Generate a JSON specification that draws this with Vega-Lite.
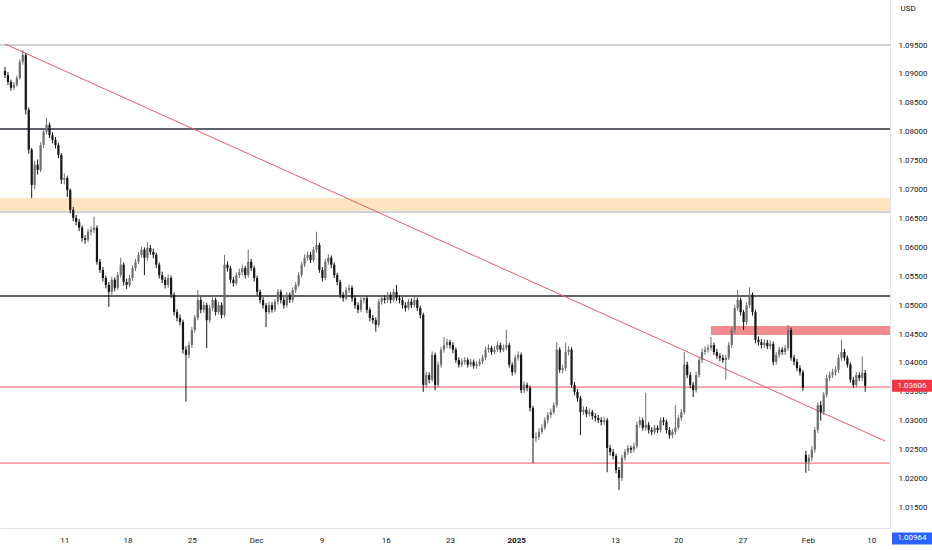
{
"$schema":"https://vega.github.io/schema/vega-lite/v6.json",
"width":890,"height":528,
"autosize":{"type":"none"},
"padding":{"left":0,"top":0,"right":42,"bottom":22},
"background":"#ffffff",
"config":{"view":{"stroke":null},"font":"Roboto","axis":{"labelOverlap":false,"labelFlush":false,"grid":false,"ticks":false,"title":null}},
"datasets":{
"candles":[
{"i":0,"o":1.0905,"h":1.0912,"l":1.0893,"c":1.0898},
{"i":1,"o":1.0898,"h":1.0903,"l":1.0881,"c":1.0886},
{"i":2,"o":1.0886,"h":1.0890,"l":1.0871,"c":1.0876},
{"i":3,"o":1.0876,"h":1.0886,"l":1.0872,"c":1.0881},
{"i":4,"o":1.0881,"h":1.0897,"l":1.0878,"c":1.0893},
{"i":5,"o":1.0893,"h":1.0925,"l":1.0890,"c":1.0921},
{"i":6,"o":1.0921,"h":1.0941,"l":1.0916,"c":1.0933},
{"i":7,"o":1.0933,"h":1.0936,"l":1.0830,"c":1.0838},
{"i":8,"o":1.0838,"h":1.0842,"l":1.0762,"c":1.0769},
{"i":9,"o":1.0769,"h":1.0772,"l":1.0685,"c":1.0708},
{"i":10,"o":1.0708,"h":1.0750,"l":1.0700,"c":1.0743},
{"i":11,"o":1.0743,"h":1.0752,"l":1.0726,"c":1.0734},
{"i":12,"o":1.0734,"h":1.0782,"l":1.0730,"c":1.0777},
{"i":13,"o":1.0777,"h":1.0806,"l":1.0772,"c":1.0800},
{"i":14,"o":1.0800,"h":1.0824,"l":1.0795,"c":1.0812},
{"i":15,"o":1.0812,"h":1.0816,"l":1.0789,"c":1.0794},
{"i":16,"o":1.0794,"h":1.0799,"l":1.0780,"c":1.0786},
{"i":17,"o":1.0786,"h":1.0791,"l":1.0771,"c":1.0777},
{"i":18,"o":1.0777,"h":1.0781,"l":1.0754,"c":1.0760},
{"i":19,"o":1.0760,"h":1.0763,"l":1.0710,"c":1.0717},
{"i":20,"o":1.0717,"h":1.0728,"l":1.0709,"c":1.0720},
{"i":21,"o":1.0720,"h":1.0724,"l":1.0687,"c":1.0699},
{"i":22,"o":1.0699,"h":1.0702,"l":1.0659,"c":1.0665},
{"i":23,"o":1.0665,"h":1.0670,"l":1.0645,"c":1.0651},
{"i":24,"o":1.0651,"h":1.0656,"l":1.0638,"c":1.0644},
{"i":25,"o":1.0644,"h":1.0649,"l":1.0628,"c":1.0634},
{"i":26,"o":1.0634,"h":1.0638,"l":1.0610,"c":1.0616},
{"i":27,"o":1.0616,"h":1.0621,"l":1.0606,"c":1.0613},
{"i":28,"o":1.0613,"h":1.0632,"l":1.0609,"c":1.0627},
{"i":29,"o":1.0627,"h":1.0636,"l":1.0621,"c":1.0630},
{"i":30,"o":1.0630,"h":1.0653,"l":1.0625,"c":1.0634},
{"i":31,"o":1.0634,"h":1.0638,"l":1.0570,"c":1.0575},
{"i":32,"o":1.0575,"h":1.0580,"l":1.0556,"c":1.0561},
{"i":33,"o":1.0561,"h":1.0566,"l":1.0541,"c":1.0547},
{"i":34,"o":1.0547,"h":1.0551,"l":1.0529,"c":1.0535},
{"i":35,"o":1.0535,"h":1.0540,"l":1.0497,"c":1.0523},
{"i":36,"o":1.0523,"h":1.0549,"l":1.0518,"c":1.0544},
{"i":37,"o":1.0544,"h":1.0548,"l":1.0524,"c":1.0530},
{"i":38,"o":1.0530,"h":1.0557,"l":1.0526,"c":1.0552},
{"i":39,"o":1.0552,"h":1.0582,"l":1.0548,"c":1.0570},
{"i":40,"o":1.0570,"h":1.0574,"l":1.0534,"c":1.0540},
{"i":41,"o":1.0540,"h":1.0546,"l":1.0528,"c":1.0535},
{"i":42,"o":1.0535,"h":1.0552,"l":1.0531,"c":1.0547},
{"i":43,"o":1.0547,"h":1.0569,"l":1.0542,"c":1.0564},
{"i":44,"o":1.0564,"h":1.0580,"l":1.0559,"c":1.0575},
{"i":45,"o":1.0575,"h":1.0592,"l":1.0571,"c":1.0587},
{"i":46,"o":1.0587,"h":1.0601,"l":1.0582,"c":1.0596},
{"i":47,"o":1.0596,"h":1.0600,"l":1.0552,"c":1.0582},
{"i":48,"o":1.0582,"h":1.0609,"l":1.0577,"c":1.0599},
{"i":49,"o":1.0599,"h":1.0604,"l":1.0587,"c":1.0592},
{"i":50,"o":1.0592,"h":1.0598,"l":1.0581,"c":1.0587},
{"i":51,"o":1.0587,"h":1.0591,"l":1.0564,"c":1.0570},
{"i":52,"o":1.0570,"h":1.0574,"l":1.0546,"c":1.0552},
{"i":53,"o":1.0552,"h":1.0558,"l":1.0538,"c":1.0544},
{"i":54,"o":1.0544,"h":1.0549,"l":1.0529,"c":1.0535},
{"i":55,"o":1.0535,"h":1.0553,"l":1.0530,"c":1.0547},
{"i":56,"o":1.0547,"h":1.0551,"l":1.0512,"c":1.0518},
{"i":57,"o":1.0518,"h":1.0522,"l":1.0482,"c":1.0488},
{"i":58,"o":1.0488,"h":1.0493,"l":1.0472,"c":1.0478},
{"i":59,"o":1.0478,"h":1.0484,"l":1.0465,"c":1.0471},
{"i":60,"o":1.0471,"h":1.0475,"l":1.0416,"c":1.0423},
{"i":61,"o":1.0423,"h":1.0429,"l":1.0333,"c":1.0414},
{"i":62,"o":1.0414,"h":1.0437,"l":1.0408,"c":1.0431},
{"i":63,"o":1.0431,"h":1.0462,"l":1.0426,"c":1.0457},
{"i":64,"o":1.0457,"h":1.0483,"l":1.0452,"c":1.0478},
{"i":65,"o":1.0478,"h":1.0526,"l":1.0474,"c":1.0509},
{"i":66,"o":1.0509,"h":1.0514,"l":1.0486,"c":1.0492},
{"i":67,"o":1.0492,"h":1.0506,"l":1.0487,"c":1.0500},
{"i":68,"o":1.0500,"h":1.0504,"l":1.0426,"c":1.0474},
{"i":69,"o":1.0474,"h":1.0500,"l":1.0469,"c":1.0495},
{"i":70,"o":1.0495,"h":1.0515,"l":1.0490,"c":1.0509},
{"i":71,"o":1.0509,"h":1.0513,"l":1.0482,"c":1.0488},
{"i":72,"o":1.0488,"h":1.0506,"l":1.0484,"c":1.0500},
{"i":73,"o":1.0500,"h":1.0505,"l":1.0477,"c":1.0483},
{"i":74,"o":1.0483,"h":1.0587,"l":1.0479,"c":1.0570},
{"i":75,"o":1.0570,"h":1.0576,"l":1.0558,"c":1.0564},
{"i":76,"o":1.0564,"h":1.0568,"l":1.0538,"c":1.0544},
{"i":77,"o":1.0544,"h":1.0549,"l":1.0532,"c":1.0538},
{"i":78,"o":1.0538,"h":1.0557,"l":1.0534,"c":1.0552},
{"i":79,"o":1.0552,"h":1.0563,"l":1.0547,"c":1.0557},
{"i":80,"o":1.0557,"h":1.0570,"l":1.0552,"c":1.0564},
{"i":81,"o":1.0564,"h":1.0568,"l":1.0546,"c":1.0552},
{"i":82,"o":1.0552,"h":1.0596,"l":1.0548,"c":1.0575},
{"i":83,"o":1.0575,"h":1.0580,"l":1.0559,"c":1.0564},
{"i":84,"o":1.0564,"h":1.0568,"l":1.0541,"c":1.0547},
{"i":85,"o":1.0547,"h":1.0551,"l":1.0517,"c":1.0523},
{"i":86,"o":1.0523,"h":1.0527,"l":1.0503,"c":1.0509},
{"i":87,"o":1.0509,"h":1.0514,"l":1.0494,"c":1.0500},
{"i":88,"o":1.0500,"h":1.0504,"l":1.0462,"c":1.0488},
{"i":89,"o":1.0488,"h":1.0506,"l":1.0484,"c":1.0500},
{"i":90,"o":1.0500,"h":1.0505,"l":1.0487,"c":1.0492},
{"i":91,"o":1.0492,"h":1.0511,"l":1.0488,"c":1.0506},
{"i":92,"o":1.0506,"h":1.0528,"l":1.0501,"c":1.0523},
{"i":93,"o":1.0523,"h":1.0527,"l":1.0503,"c":1.0509},
{"i":94,"o":1.0509,"h":1.0514,"l":1.0494,"c":1.0500},
{"i":95,"o":1.0500,"h":1.0523,"l":1.0496,"c":1.0518},
{"i":96,"o":1.0518,"h":1.0522,"l":1.0504,"c":1.0509},
{"i":97,"o":1.0509,"h":1.0531,"l":1.0505,"c":1.0526},
{"i":98,"o":1.0526,"h":1.0540,"l":1.0521,"c":1.0535},
{"i":99,"o":1.0535,"h":1.0557,"l":1.0531,"c":1.0552},
{"i":100,"o":1.0552,"h":1.0575,"l":1.0548,"c":1.0570},
{"i":101,"o":1.0570,"h":1.0588,"l":1.0566,"c":1.0582},
{"i":102,"o":1.0582,"h":1.0593,"l":1.0577,"c":1.0587},
{"i":103,"o":1.0587,"h":1.0592,"l":1.0573,"c":1.0578},
{"i":104,"o":1.0578,"h":1.0601,"l":1.0574,"c":1.0596},
{"i":105,"o":1.0596,"h":1.0627,"l":1.0591,"c":1.0604},
{"i":106,"o":1.0604,"h":1.0608,"l":1.0556,"c":1.0561},
{"i":107,"o":1.0561,"h":1.0566,"l":1.0541,"c":1.0547},
{"i":108,"o":1.0547,"h":1.0580,"l":1.0543,"c":1.0575},
{"i":109,"o":1.0575,"h":1.0588,"l":1.0570,"c":1.0582},
{"i":110,"o":1.0582,"h":1.0586,"l":1.0564,"c":1.0570},
{"i":111,"o":1.0570,"h":1.0574,"l":1.0547,"c":1.0552},
{"i":112,"o":1.0552,"h":1.0556,"l":1.0534,"c":1.0540},
{"i":113,"o":1.0540,"h":1.0544,"l":1.0512,"c":1.0518},
{"i":114,"o":1.0518,"h":1.0523,"l":1.0506,"c":1.0512},
{"i":115,"o":1.0512,"h":1.0531,"l":1.0508,"c":1.0526},
{"i":116,"o":1.0526,"h":1.0536,"l":1.0521,"c":1.0530},
{"i":117,"o":1.0530,"h":1.0534,"l":1.0506,"c":1.0512},
{"i":118,"o":1.0512,"h":1.0516,"l":1.0494,"c":1.0500},
{"i":119,"o":1.0500,"h":1.0505,"l":1.0486,"c":1.0492},
{"i":120,"o":1.0492,"h":1.0514,"l":1.0488,"c":1.0509},
{"i":121,"o":1.0509,"h":1.0518,"l":1.0503,"c":1.0512},
{"i":122,"o":1.0512,"h":1.0516,"l":1.0486,"c":1.0492},
{"i":123,"o":1.0492,"h":1.0496,"l":1.0472,"c":1.0478},
{"i":124,"o":1.0478,"h":1.0483,"l":1.0468,"c":1.0474},
{"i":125,"o":1.0474,"h":1.0479,"l":1.0454,"c":1.0466},
{"i":126,"o":1.0466,"h":1.0511,"l":1.0462,"c":1.0506},
{"i":127,"o":1.0506,"h":1.0518,"l":1.0501,"c":1.0512},
{"i":128,"o":1.0512,"h":1.0517,"l":1.0503,"c":1.0509},
{"i":129,"o":1.0509,"h":1.0523,"l":1.0504,"c":1.0518},
{"i":130,"o":1.0518,"h":1.0522,"l":1.0503,"c":1.0509},
{"i":131,"o":1.0509,"h":1.0528,"l":1.0505,"c":1.0523},
{"i":132,"o":1.0523,"h":1.0535,"l":1.0507,"c":1.0512},
{"i":133,"o":1.0512,"h":1.0517,"l":1.0503,"c":1.0509},
{"i":134,"o":1.0509,"h":1.0514,"l":1.0494,"c":1.0500},
{"i":135,"o":1.0500,"h":1.0505,"l":1.0489,"c":1.0495},
{"i":136,"o":1.0495,"h":1.0511,"l":1.0491,"c":1.0506},
{"i":137,"o":1.0506,"h":1.0512,"l":1.0495,"c":1.0500},
{"i":138,"o":1.0500,"h":1.0514,"l":1.0496,"c":1.0509},
{"i":139,"o":1.0509,"h":1.0513,"l":1.0490,"c":1.0495},
{"i":140,"o":1.0495,"h":1.0499,"l":1.0477,"c":1.0483},
{"i":141,"o":1.0483,"h":1.0487,"l":1.0350,"c":1.0362},
{"i":142,"o":1.0362,"h":1.0385,"l":1.0357,"c":1.0379},
{"i":143,"o":1.0379,"h":1.0384,"l":1.0365,"c":1.0371},
{"i":144,"o":1.0371,"h":1.0420,"l":1.0367,"c":1.0414},
{"i":145,"o":1.0414,"h":1.0418,"l":1.0353,"c":1.0362},
{"i":146,"o":1.0362,"h":1.0402,"l":1.0358,"c":1.0397},
{"i":147,"o":1.0397,"h":1.0428,"l":1.0392,"c":1.0423},
{"i":148,"o":1.0423,"h":1.0445,"l":1.0418,"c":1.0431},
{"i":149,"o":1.0431,"h":1.0442,"l":1.0426,"c":1.0436},
{"i":150,"o":1.0436,"h":1.0440,"l":1.0425,"c":1.0431},
{"i":151,"o":1.0431,"h":1.0436,"l":1.0417,"c":1.0423},
{"i":152,"o":1.0423,"h":1.0427,"l":1.0400,"c":1.0405},
{"i":153,"o":1.0405,"h":1.0410,"l":1.0392,"c":1.0397},
{"i":154,"o":1.0397,"h":1.0408,"l":1.0393,"c":1.0402},
{"i":155,"o":1.0402,"h":1.0410,"l":1.0397,"c":1.0405},
{"i":156,"o":1.0405,"h":1.0409,"l":1.0392,"c":1.0397},
{"i":157,"o":1.0397,"h":1.0407,"l":1.0393,"c":1.0402},
{"i":158,"o":1.0402,"h":1.0406,"l":1.0390,"c":1.0395},
{"i":159,"o":1.0395,"h":1.0403,"l":1.0390,"c":1.0398},
{"i":160,"o":1.0398,"h":1.0407,"l":1.0394,"c":1.0402},
{"i":161,"o":1.0402,"h":1.0414,"l":1.0398,"c":1.0409},
{"i":162,"o":1.0409,"h":1.0428,"l":1.0405,"c":1.0423},
{"i":163,"o":1.0423,"h":1.0432,"l":1.0418,"c":1.0426},
{"i":164,"o":1.0426,"h":1.0430,"l":1.0414,"c":1.0419},
{"i":165,"o":1.0419,"h":1.0429,"l":1.0415,"c":1.0423},
{"i":166,"o":1.0423,"h":1.0437,"l":1.0419,"c":1.0431},
{"i":167,"o":1.0431,"h":1.0435,"l":1.0418,"c":1.0423},
{"i":168,"o":1.0423,"h":1.0432,"l":1.0419,"c":1.0426},
{"i":169,"o":1.0426,"h":1.0457,"l":1.0422,"c":1.0431},
{"i":170,"o":1.0431,"h":1.0435,"l":1.0392,"c":1.0397},
{"i":171,"o":1.0397,"h":1.0401,"l":1.0378,"c":1.0384},
{"i":172,"o":1.0384,"h":1.0414,"l":1.0380,"c":1.0409},
{"i":173,"o":1.0409,"h":1.0420,"l":1.0404,"c":1.0414},
{"i":174,"o":1.0414,"h":1.0418,"l":1.0348,"c":1.0353},
{"i":175,"o":1.0353,"h":1.0368,"l":1.0348,"c":1.0362},
{"i":176,"o":1.0362,"h":1.0366,"l":1.0351,"c":1.0357},
{"i":177,"o":1.0357,"h":1.0361,"l":1.0316,"c":1.0322},
{"i":178,"o":1.0322,"h":1.0326,"l":1.0227,"c":1.0270},
{"i":179,"o":1.0270,"h":1.0280,"l":1.0263,"c":1.0272},
{"i":180,"o":1.0272,"h":1.0287,"l":1.0267,"c":1.0281},
{"i":181,"o":1.0281,"h":1.0294,"l":1.0277,"c":1.0288},
{"i":182,"o":1.0288,"h":1.0306,"l":1.0284,"c":1.0301},
{"i":183,"o":1.0301,"h":1.0315,"l":1.0296,"c":1.0310},
{"i":184,"o":1.0310,"h":1.0321,"l":1.0305,"c":1.0315},
{"i":185,"o":1.0315,"h":1.0332,"l":1.0311,"c":1.0327},
{"i":186,"o":1.0327,"h":1.0436,"l":1.0323,"c":1.0423},
{"i":187,"o":1.0423,"h":1.0427,"l":1.0383,"c":1.0388},
{"i":188,"o":1.0388,"h":1.0397,"l":1.0382,"c":1.0391},
{"i":189,"o":1.0391,"h":1.0435,"l":1.0386,"c":1.0419},
{"i":190,"o":1.0419,"h":1.0429,"l":1.0413,"c":1.0423},
{"i":191,"o":1.0423,"h":1.0427,"l":1.0357,"c":1.0362},
{"i":192,"o":1.0362,"h":1.0367,"l":1.0344,"c":1.0350},
{"i":193,"o":1.0350,"h":1.0355,"l":1.0333,"c":1.0339},
{"i":194,"o":1.0339,"h":1.0343,"l":1.0275,"c":1.0315},
{"i":195,"o":1.0315,"h":1.0325,"l":1.0310,"c":1.0319},
{"i":196,"o":1.0319,"h":1.0324,"l":1.0306,"c":1.0312},
{"i":197,"o":1.0312,"h":1.0321,"l":1.0307,"c":1.0315},
{"i":198,"o":1.0315,"h":1.0319,"l":1.0302,"c":1.0308},
{"i":199,"o":1.0308,"h":1.0313,"l":1.0299,"c":1.0305},
{"i":200,"o":1.0305,"h":1.0310,"l":1.0296,"c":1.0301},
{"i":201,"o":1.0301,"h":1.0306,"l":1.0292,"c":1.0298},
{"i":202,"o":1.0298,"h":1.0307,"l":1.0293,"c":1.0301},
{"i":203,"o":1.0301,"h":1.0305,"l":1.0211,"c":1.0253},
{"i":204,"o":1.0253,"h":1.0258,"l":1.0240,"c":1.0246},
{"i":205,"o":1.0246,"h":1.0251,"l":1.0233,"c":1.0239},
{"i":206,"o":1.0239,"h":1.0243,"l":1.0209,"c":1.0215},
{"i":207,"o":1.0215,"h":1.0220,"l":1.0180,"c":1.0201},
{"i":208,"o":1.0201,"h":1.0241,"l":1.0196,"c":1.0236},
{"i":209,"o":1.0236,"h":1.0251,"l":1.0231,"c":1.0246},
{"i":210,"o":1.0246,"h":1.0258,"l":1.0241,"c":1.0253},
{"i":211,"o":1.0253,"h":1.0257,"l":1.0244,"c":1.0250},
{"i":212,"o":1.0250,"h":1.0262,"l":1.0245,"c":1.0256},
{"i":213,"o":1.0256,"h":1.0298,"l":1.0252,"c":1.0293},
{"i":214,"o":1.0293,"h":1.0307,"l":1.0288,"c":1.0301},
{"i":215,"o":1.0301,"h":1.0305,"l":1.0283,"c":1.0288},
{"i":216,"o":1.0288,"h":1.0348,"l":1.0283,"c":1.0293},
{"i":217,"o":1.0293,"h":1.0298,"l":1.0278,"c":1.0284},
{"i":218,"o":1.0284,"h":1.0289,"l":1.0275,"c":1.0281},
{"i":219,"o":1.0281,"h":1.0293,"l":1.0276,"c":1.0288},
{"i":220,"o":1.0288,"h":1.0292,"l":1.0279,"c":1.0284},
{"i":221,"o":1.0284,"h":1.0306,"l":1.0280,"c":1.0301},
{"i":222,"o":1.0301,"h":1.0306,"l":1.0292,"c":1.0298},
{"i":223,"o":1.0298,"h":1.0302,"l":1.0278,"c":1.0284},
{"i":224,"o":1.0284,"h":1.0289,"l":1.0269,"c":1.0275},
{"i":225,"o":1.0275,"h":1.0286,"l":1.0270,"c":1.0281},
{"i":226,"o":1.0281,"h":1.0327,"l":1.0276,"c":1.0288},
{"i":227,"o":1.0288,"h":1.0310,"l":1.0284,"c":1.0305},
{"i":228,"o":1.0305,"h":1.0320,"l":1.0300,"c":1.0315},
{"i":229,"o":1.0315,"h":1.0419,"l":1.0311,"c":1.0397},
{"i":230,"o":1.0397,"h":1.0402,"l":1.0374,"c":1.0379},
{"i":231,"o":1.0379,"h":1.0384,"l":1.0356,"c":1.0362},
{"i":232,"o":1.0362,"h":1.0367,"l":1.0341,"c":1.0353},
{"i":233,"o":1.0353,"h":1.0385,"l":1.0349,"c":1.0379},
{"i":234,"o":1.0379,"h":1.0410,"l":1.0375,"c":1.0405},
{"i":235,"o":1.0405,"h":1.0425,"l":1.0400,"c":1.0419},
{"i":236,"o":1.0419,"h":1.0429,"l":1.0414,"c":1.0423},
{"i":237,"o":1.0423,"h":1.0432,"l":1.0418,"c":1.0426},
{"i":238,"o":1.0426,"h":1.0445,"l":1.0421,"c":1.0431},
{"i":239,"o":1.0431,"h":1.0435,"l":1.0414,"c":1.0419},
{"i":240,"o":1.0419,"h":1.0424,"l":1.0407,"c":1.0412},
{"i":241,"o":1.0412,"h":1.0417,"l":1.0403,"c":1.0409},
{"i":242,"o":1.0409,"h":1.0414,"l":1.0400,"c":1.0405},
{"i":243,"o":1.0405,"h":1.0414,"l":1.0371,"c":1.0409},
{"i":244,"o":1.0409,"h":1.0436,"l":1.0405,"c":1.0431},
{"i":245,"o":1.0431,"h":1.0462,"l":1.0426,"c":1.0457},
{"i":246,"o":1.0457,"h":1.0500,"l":1.0452,"c":1.0495},
{"i":247,"o":1.0495,"h":1.0526,"l":1.0490,"c":1.0509},
{"i":248,"o":1.0509,"h":1.0513,"l":1.0482,"c":1.0488},
{"i":249,"o":1.0488,"h":1.0492,"l":1.0457,"c":1.0471},
{"i":250,"o":1.0471,"h":1.0505,"l":1.0466,"c":1.0500},
{"i":251,"o":1.0500,"h":1.0531,"l":1.0495,"c":1.0518},
{"i":252,"o":1.0518,"h":1.0522,"l":1.0482,"c":1.0488},
{"i":253,"o":1.0488,"h":1.0492,"l":1.0434,"c":1.0440},
{"i":254,"o":1.0440,"h":1.0446,"l":1.0430,"c":1.0436},
{"i":255,"o":1.0436,"h":1.0441,"l":1.0425,"c":1.0431},
{"i":256,"o":1.0431,"h":1.0441,"l":1.0426,"c":1.0435},
{"i":257,"o":1.0435,"h":1.0440,"l":1.0424,"c":1.0429},
{"i":258,"o":1.0429,"h":1.0439,"l":1.0424,"c":1.0433},
{"i":259,"o":1.0433,"h":1.0437,"l":1.0396,"c":1.0402},
{"i":260,"o":1.0402,"h":1.0419,"l":1.0397,"c":1.0414},
{"i":261,"o":1.0414,"h":1.0428,"l":1.0409,"c":1.0423},
{"i":262,"o":1.0423,"h":1.0427,"l":1.0414,"c":1.0419},
{"i":263,"o":1.0419,"h":1.0431,"l":1.0414,"c":1.0426},
{"i":264,"o":1.0426,"h":1.0466,"l":1.0421,"c":1.0457},
{"i":265,"o":1.0457,"h":1.0461,"l":1.0404,"c":1.0409},
{"i":266,"o":1.0409,"h":1.0414,"l":1.0396,"c":1.0402},
{"i":267,"o":1.0402,"h":1.0407,"l":1.0386,"c":1.0391},
{"i":268,"o":1.0391,"h":1.0396,"l":1.0378,"c":1.0384},
{"i":269,"o":1.0384,"h":1.0388,"l":1.0352,"c":1.0357},
{"i":270,"o":1.0241,"h":1.0248,"l":1.0210,"c":1.0229},
{"i":271,"o":1.0229,"h":1.0242,"l":1.0213,"c":1.0236},
{"i":272,"o":1.0236,"h":1.0256,"l":1.0230,"c":1.0250},
{"i":273,"o":1.0250,"h":1.0289,"l":1.0245,"c":1.0284},
{"i":274,"o":1.0284,"h":1.0332,"l":1.0279,"c":1.0327},
{"i":275,"o":1.0327,"h":1.0334,"l":1.0300,"c":1.0315},
{"i":276,"o":1.0315,"h":1.0350,"l":1.0310,"c":1.0345},
{"i":277,"o":1.0345,"h":1.0380,"l":1.0340,"c":1.0374},
{"i":278,"o":1.0374,"h":1.0385,"l":1.0369,"c":1.0379},
{"i":279,"o":1.0379,"h":1.0390,"l":1.0374,"c":1.0384},
{"i":280,"o":1.0384,"h":1.0394,"l":1.0378,"c":1.0388},
{"i":281,"o":1.0388,"h":1.0414,"l":1.0383,"c":1.0409},
{"i":282,"o":1.0409,"h":1.0440,"l":1.0404,"c":1.0419},
{"i":283,"o":1.0419,"h":1.0424,"l":1.0404,"c":1.0409},
{"i":284,"o":1.0409,"h":1.0413,"l":1.0392,"c":1.0397},
{"i":285,"o":1.0397,"h":1.0401,"l":1.0366,"c":1.0371},
{"i":286,"o":1.0371,"h":1.0376,"l":1.0357,"c":1.0362},
{"i":287,"o":1.0362,"h":1.0384,"l":1.0358,"c":1.0379},
{"i":288,"o":1.0379,"h":1.0384,"l":1.0369,"c":1.0374},
{"i":289,"o":1.0374,"h":1.0411,"l":1.0369,"c":1.0383},
{"i":290,"o":1.0383,"h":1.0388,"l":1.0350,"c":1.03606}
],
"orangeZone":[{"i0":-3,"i1":300,"lo":1.06628,"hi":1.06853}],
"redZone":[{"i0":238,"i1":300,"lo":1.04483,"hi":1.04638}],
"blackLevels":[{"p":1.08047},{"p":1.05157}],
"grayLevels":[{"p":1.0950},{"p":1.06611}],
"redLevels":[{"p":1.03583},{"p":1.02268}],
"trend":[{"i":0,"p":1.09518},{"i":296.67,"p":1.0265}],
"lastPrice":[{"p":1.03606,"t":"1.03606"}],
"lowTag":[{"p":1.00964,"t":"1.00964"}]
},
"resolve":{"scale":{"x":"shared","y":"shared"}},
"layer":[
{"data":{"name":"orangeZone"},"mark":{"type":"rect","color":"#fde5c2","clip":true},
 "encoding":{"x":{"field":"i0","type":"quantitative","scale":{"domain":[0,296.67],"nice":false,"zero":false}},"x2":{"field":"i1"},
  "y":{"field":"lo","type":"quantitative","scale":{"domain":[1.01145,1.10279],"zero":false,"nice":false}},"y2":{"field":"hi"}}},
{"data":{"name":"redZone"},"mark":{"type":"rect","color":"#f28b8f","clip":true},
 "encoding":{"x":{"field":"i0","type":"quantitative","scale":{"domain":[0,296.67],"nice":false,"zero":false}},"x2":{"field":"i1"},
  "y":{"field":"lo","type":"quantitative","scale":{"domain":[1.01145,1.10279],"zero":false,"nice":false}},"y2":{"field":"hi"}}},
{"data":{"name":"grayLevels"},"mark":{"type":"rule","color":"#a3a6af","strokeWidth":1},
 "encoding":{"y":{"field":"p","type":"quantitative","scale":{"domain":[1.01145,1.10279],"zero":false,"nice":false}}}},
{"data":{"name":"blackLevels"},"mark":{"type":"rule","color":"#2a2e39","strokeWidth":1.5},
 "encoding":{"y":{"field":"p","type":"quantitative","scale":{"domain":[1.01145,1.10279],"zero":false,"nice":false}}}},
{"data":{"name":"redLevels"},"mark":{"type":"rule","color":"#ef5a66","strokeWidth":1},
 "encoding":{"y":{"field":"p","type":"quantitative","scale":{"domain":[1.01145,1.10279],"zero":false,"nice":false}}}},
{"data":{"name":"trend"},"mark":{"type":"line","color":"#e35d6a","strokeWidth":1,"clip":true},
 "encoding":{"x":{"field":"i","type":"quantitative","scale":{"domain":[0,296.67],"nice":false,"zero":false}},
  "y":{"field":"p","type":"quantitative","scale":{"domain":[1.01145,1.10279],"zero":false,"nice":false}}}},
{"data":{"name":"candles"},"mark":{"type":"rule","strokeWidth":1,"clip":true},
 "encoding":{"x":{"field":"i","type":"quantitative","scale":{"domain":[0,296.67],"nice":false,"zero":false}},
  "y":{"field":"l","type":"quantitative","scale":{"domain":[1.01145,1.10279],"zero":false,"nice":false}},"y2":{"field":"h"},
  "color":{"condition":{"test":"datum.c >= datum.o","value":"#6e6e6e"},"value":"#161616"}}},
{"data":{"name":"candles"},"mark":{"type":"bar","width":2.2,"clip":true},
 "encoding":{"x":{"field":"i","type":"quantitative","scale":{"domain":[0,296.67],"nice":false,"zero":false},
   "axis":{"values":[20,41.33,63,84.67,106.67,128.33,150,172.33,205.67,227,248.67,270.67,292],"tickCount":40,
    "labelExpr":"datum.value < 30 ? '11' : datum.value < 50 ? '18' : datum.value < 70 ? '25' : datum.value < 95 ? 'Dec' : datum.value < 115 ? '9' : datum.value < 140 ? '16' : datum.value < 160 ? '23' : datum.value < 190 ? '2025' : datum.value < 215 ? '13' : datum.value < 235 ? '20' : datum.value < 260 ? '27' : datum.value < 280 ? 'Feb' : '10'",
    "labelFontSize":8,"labelColor":"#131722","ticks":false,"grid":false,"domain":true,"domainColor":"#e0e3eb","labelPadding":8,"title":null,"labelFlush":false,"labelOverlap":false,
    "labelFontWeight":{"condition":{"test":"datum.value > 170 && datum.value < 175","value":"bold"},"value":"normal"}}},
  "y":{"field":"o","type":"quantitative","scale":{"domain":[1.01145,1.10279],"zero":false,"nice":false},
   "axis":{"orient":"right","values":[1.015,1.02,1.025,1.03,1.035,1.04,1.045,1.05,1.055,1.06,1.065,1.07,1.075,1.08,1.085,1.09,1.095],"tickCount":40,
    "format":".5f","title":"USD","titleAngle":0,"titleX":10,"titleY":8,"titleAlign":"left","titleBaseline":"middle","titleFontSize":8,"titleFontWeight":"normal","titleColor":"#131722",
    "labelFontSize":8,"labelColor":"#131722","labelPadding":8,"ticks":false,"grid":false,"domainColor":"#e0e3eb","labelFlush":false,"labelOverlap":false}},
  "y2":{"field":"c"},
  "color":{"condition":{"test":"datum.c >= datum.o","value":"#6e6e6e"},"value":"#161616"}}},
{"data":{"name":"lastPrice"},"mark":{"type":"rule","color":"#f23645","strokeWidth":12,"strokeCap":"butt"},
 "encoding":{"x":{"value":892},"x2":{"value":932},"y":{"field":"p","type":"quantitative","scale":{"domain":[1.01145,1.10279],"zero":false,"nice":false}}}},
{"data":{"name":"lastPrice"},"mark":{"type":"text","color":"#ffffff","fontSize":8,"align":"center","baseline":"middle"},
 "encoding":{"x":{"value":912},"y":{"field":"p","type":"quantitative","scale":{"domain":[1.01145,1.10279],"zero":false,"nice":false}},"text":{"field":"t"}}},
{"data":{"name":"lowTag"},"mark":{"type":"rule","color":"#2962ff","strokeWidth":12,"strokeCap":"butt"},
 "encoding":{"x":{"value":892},"x2":{"value":932},"y":{"field":"p","type":"quantitative","scale":{"domain":[1.01145,1.10279],"zero":false,"nice":false}}}},
{"data":{"name":"lowTag"},"mark":{"type":"text","color":"#ffffff","fontSize":8,"align":"center","baseline":"middle"},
 "encoding":{"x":{"value":912},"y":{"field":"p","type":"quantitative","scale":{"domain":[1.01145,1.10279],"zero":false,"nice":false}},"text":{"field":"t"}}}
]
}
